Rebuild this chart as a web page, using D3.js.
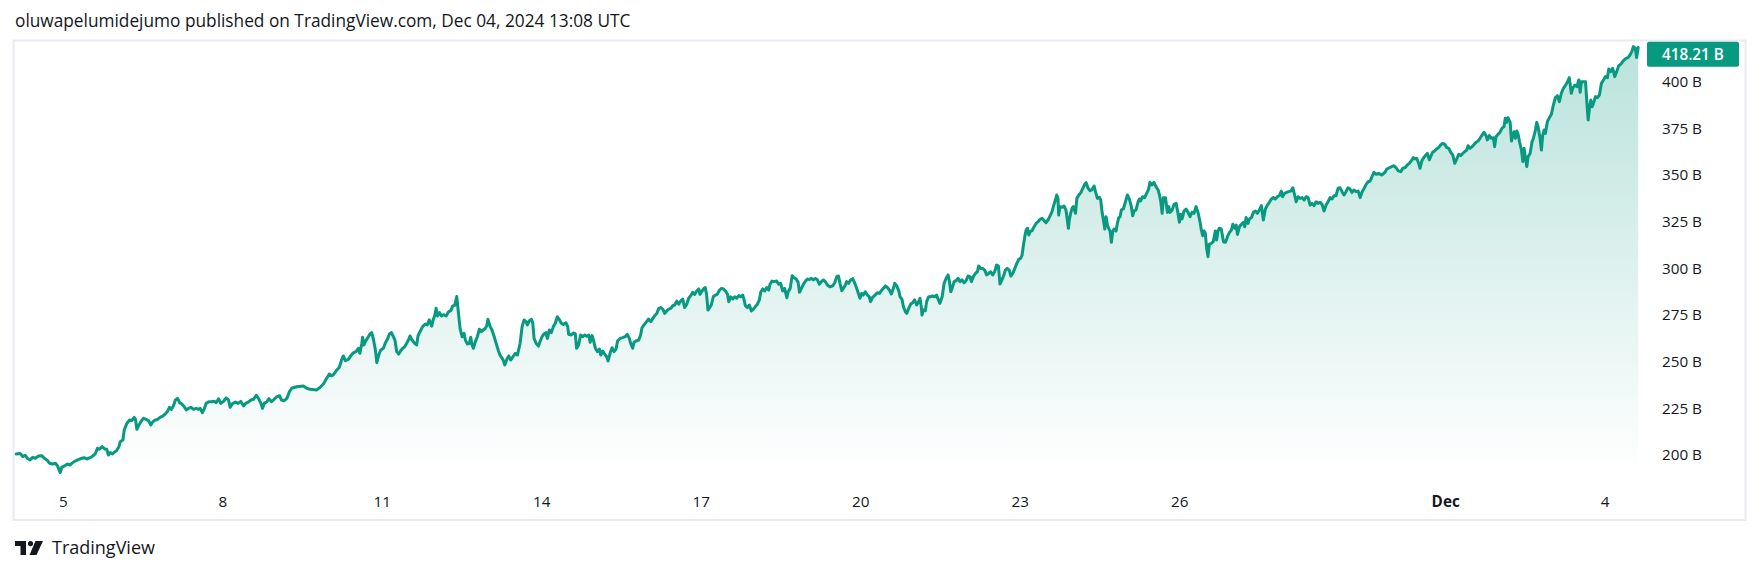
<!DOCTYPE html>
<html><head><meta charset="utf-8">
<script src="https://cdn.jsdelivr.net/npm/d3@7"></script>
<style>
html,body{margin:0;padding:0;background:#fff;}
svg{display:block;}
text{font-family:"Open Sans","Noto Sans",sans-serif;fill:#131722;}
</style></head><body>
<svg id="chart" width="1761" height="574"></svg>
<script>
// ---------------- DATA ----------------
const headerText = "oluwapelumidejumo published on TradingView.com, Dec 04, 2024 13:08 UTC";
const brandText = "TradingView";
const seriesStart = "2024-11-04T00:00:00Z";
// [hours since seriesStart, market value in billions]
const seriesPoints = [
[2.7,200.5],[4.5,200.8],[5.7,199.1],[6.8,199.8],[7.8,198.2],[9.0,197.3],[10.2,198.7],[11.4,198.2],[12.8,199.4],[14.3,199.6],[15.4,198.2],[16.6,197.3],[17.8,195.5],[19.3,195.1],[20.5,195.5],[21.4,194.1],[22.6,190.5],[23.3,193.3],[24.5,194.1],[25.9,195.1],[27.1,194.6],[28.6,196.2],[29.8,196.9],[31.0,197.6],[32.4,198.2],[33.4,198.5],[34.6,197.8],[36.1,198.5],[37.3,199.4],[38.4,200.5],[39.4,203.5],[40.3,203.0],[41.5,204.4],[42.7,203.2],[43.6,203.0],[44.4,199.9],[45.2,201.2],[46.2,200.5],[47.4,201.7],[48.2,202.6],[49.1,204.4],[49.7,207.1],[50.9,208.0],[51.5,213.3],[52.7,216.9],[53.9,218.7],[54.9,218.3],[56.0,220.1],[56.6,219.0],[57.2,213.7],[57.9,215.5],[59.0,217.8],[60.2,219.6],[61.4,219.0],[62.5,218.3],[63.5,216.0],[64.4,217.8],[65.5,218.7],[66.5,219.0],[67.7,220.1],[68.9,220.8],[70.0,221.9],[71.0,223.2],[71.9,225.5],[72.8,224.4],[73.7,226.2],[74.6,229.4],[75.6,230.3],[76.5,228.0],[77.5,227.3],[78.6,225.8],[79.5,224.1],[80.5,224.9],[81.6,225.5],[82.8,224.4],[84.0,224.9],[85.0,224.4],[85.8,224.9],[86.8,222.6],[87.6,224.6],[88.5,227.6],[89.7,228.5],[90.9,228.5],[92.1,228.7],[93.0,228.0],[94.1,230.1],[95.1,227.6],[96.3,228.7],[97.5,230.5],[98.6,229.4],[99.3,225.5],[100.5,227.6],[101.7,228.3],[102.9,227.6],[104.1,228.7],[105.4,226.2],[106.3,227.6],[107.5,228.3],[108.7,229.4],[109.9,229.8],[111.1,231.9],[112.1,230.3],[113.2,227.6],[113.9,224.9],[114.7,227.6],[115.9,228.5],[116.8,230.1],[118.0,228.5],[119.2,229.8],[120.4,231.2],[121.6,231.7],[122.5,229.4],[123.7,229.0],[124.9,230.3],[126.1,233.9],
[127.1,235.7],[129.3,236.5],[132.4,236.9],[133.9,235.7],[135.4,235.1],[138.4,234.8],[139.9,236.2],[141.4,238.0],[142.9,241.0],[144.1,243.3],[145.2,242.3],[146.2,243.3],[147.4,245.5],[148.6,246.9],[149.7,251.2],[150.4,253.0],[151.3,250.5],[152.7,251.2],[153.7,253.0],[154.9,254.7],[156.1,255.3],[157.2,257.1],[157.9,254.4],[158.7,259.4],[159.1,263.0],[159.7,258.9],[160.6,261.2],[161.7,263.3],[162.5,264.8],[163.2,265.5],[163.9,262.4],[164.9,256.2],[165.5,249.4],[166.4,253.5],[167.3,256.2],[168.5,257.1],[169.4,260.1],[170.3,261.9],[171.2,264.8],[172.1,265.5],[173.0,263.3],[173.7,261.5],[174.5,255.3],[175.4,254.0],[176.3,255.8],[177.2,257.1],[178.1,258.0],[179.0,259.8],[179.9,261.9],[180.5,263.7],[181.4,261.5],[182.6,259.8],[183.5,258.9],[184.1,263.7],[185.0,266.0],[186.2,268.7],[187.4,270.1],[188.3,269.6],[189.2,272.3],[190.3,269.0],[191.0,272.6],[191.6,274.4],[192.3,278.5],[192.9,274.4],[193.8,276.2],[194.7,274.4],[195.6,275.1],[196.8,274.4],[197.8,276.5],[198.9,277.3],[199.8,279.8],[200.7,280.1],[201.6,284.8],[202.3,276.7],[203.1,267.8],[204.0,263.3],[204.9,265.1],[205.5,261.5],[206.4,259.4],[207.3,259.8],[207.9,263.0],[208.5,258.9],[209.1,257.1],[210.0,260.7],[210.9,263.3],[211.8,267.3],[212.7,266.0],[213.6,266.9],[214.5,267.8],[215.1,269.0],[215.7,272.6],[216.6,269.0],[217.5,266.9],[218.4,263.7],[219.3,260.1],[220.4,255.8],[221.1,253.5],[222.4,251.2],[223.3,248.2],[224.2,251.2],[225.1,253.0],[226.0,250.8],[227.2,253.0],[228.1,254.4],[229.0,253.5],[230.2,259.8],[231.1,268.7],[232.0,272.3],[232.9,271.4],[233.5,269.6],[234.4,271.9],[235.3,272.6],[235.9,270.8],[236.5,262.4],[237.4,259.8],[238.5,258.3],[239.2,260.7],[240.1,263.3],[241.0,264.8],[241.9,265.5],[242.5,262.4],[243.4,266.9],[244.3,265.5],[245.2,268.7],[246.1,270.5],[247.0,274.0],[248.0,272.3],
[248.8,270.5],[249.7,269.9],[250.9,270.7],[251.7,268.7],[252.1,264.6],[253.3,264.2],[254.2,265.3],[255.1,264.9],[255.7,257.1],[256.6,258.9],[257.5,264.2],[258.4,263.3],[259.4,264.2],[260.3,263.5],[261.2,264.2],[261.8,260.3],[262.7,263.9],[263.3,261.5],[264.2,257.1],[265.1,255.3],[266.0,256.7],[266.6,253.5],[267.5,255.6],[268.4,253.9],[269.3,252.6],[269.9,250.3],[270.8,254.4],[271.7,257.4],[272.6,255.3],[273.5,256.7],[274.2,261.0],[275.3,262.4],[276.5,262.8],[277.6,263.3],[278.6,264.6],[279.5,262.4],[280.1,259.8],[281.0,257.1],[281.6,260.3],[282.5,261.0],[283.7,261.5],[284.6,264.2],[285.2,268.1],[286.1,269.6],[287.3,271.4],[288.2,272.8],[289.2,271.4],[290.1,273.1],[291.0,274.6],[291.9,275.8],[292.8,278.5],[293.7,278.9],[294.6,278.1],[295.5,275.8],[296.4,277.1],[297.3,278.1],[298.2,278.5],[299.1,279.9],[300.0,280.3],[300.9,282.4],[301.8,280.7],[302.7,282.4],[303.6,283.5],[304.5,278.9],[305.4,280.7],[306.3,283.9],[307.2,285.3],[308.1,287.1],[309.0,286.0],[309.9,287.8],[310.8,288.9],[311.4,286.0],[312.3,287.8],[313.2,289.2],[313.8,289.6],[314.4,285.6],[315.0,277.6],[315.6,278.5],[316.5,280.3],[317.4,284.7],[318.3,285.6],[319.2,286.0],[320.2,288.3],[321.1,289.2],[322.0,288.9],[322.9,287.8],[323.8,286.0],[324.4,282.1],[325.3,284.7],[326.2,283.5],[327.1,284.7],[328.0,283.9],[328.9,285.3],[329.8,284.7],[330.7,285.6],[331.3,283.0],[331.9,279.9],[332.8,278.9],[333.7,280.3],[334.6,277.1],[335.5,278.1],[336.4,279.4],[337.3,280.7],[338.2,283.0],[338.8,287.1],[339.7,288.9],[340.6,287.8],[341.5,289.6],[342.4,288.3],[343.0,291.4],[343.9,293.1],[344.8,292.8],[346.0,293.1],[346.9,291.4],[347.8,291.9],[348.7,287.8],[349.6,289.2],[350.6,284.2],[351.2,287.4],[352.1,289.2],[353.0,296.0],[353.9,294.9],[354.8,294.2],[355.7,292.4],[356.3,287.1],[357.2,289.2],[358.1,291.4],[359.0,293.1],[359.9,294.2],[360.8,293.9],[361.7,294.6],[362.6,293.7],[363.5,294.6],[364.4,293.7],[365.3,291.4],[366.2,292.8],[367.1,293.7],[368.0,292.8],[368.9,291.0],[369.8,290.1],
[370.4,290.1],[371.3,290.5],[372.2,292.2],[373.1,295.5],[373.9,295.8],[374.6,291.9],[375.4,288.0],[376.1,289.2],[377.0,291.0],[377.6,292.8],[378.5,291.9],[379.4,293.7],[380.3,294.4],[381.2,292.2],[382.1,289.2],[382.9,286.5],[383.6,283.9],[384.4,286.5],[385.1,285.6],[386.0,287.4],[387.0,285.6],[387.8,284.7],[388.4,282.1],[389.3,284.4],[390.4,285.6],[391.5,286.9],[392.4,286.5],[393.3,288.0],[394.2,289.2],[395.1,290.5],[396.0,289.7],[396.9,288.3],[397.8,286.2],[398.7,289.2],[399.3,291.9],[400.2,290.5],[401.1,288.0],[401.7,284.7],[402.6,283.3],[403.2,279.4],[404.1,276.7],[404.7,275.8],[405.6,278.5],[406.5,280.8],[407.4,281.5],[408.3,283.0],[409.2,280.3],[410.1,282.1],[410.7,283.9],[411.3,279.4],[411.6,274.9],[412.2,277.6],[413.1,277.2],[413.7,282.1],[414.6,284.7],[415.5,284.7],[416.4,285.1],[417.3,284.7],[418.2,285.6],[419.0,283.0],[419.7,281.2],[420.7,284.7],[421.6,291.9],[422.5,294.6],[423.4,296.4],[424.0,292.8],[424.6,287.4],[425.2,289.2],[426.1,292.8],[427.0,293.3],[427.9,294.6],[428.8,292.8],[429.7,293.7],[430.6,292.2],[431.5,293.3],[432.4,295.8],[433.3,295.5],[433.9,292.8],[434.8,295.5],[435.7,297.2],[436.6,298.1],[437.2,301.2],[438.1,299.9],[439.0,299.9],[439.9,299.0],[440.8,296.4],[441.7,297.2],[442.6,298.1],[443.5,296.4],[444.4,298.1],[445.3,301.7],[446.1,301.2],[446.8,291.5],[447.7,293.7],[448.6,296.4],[449.2,299.0],[450.1,299.9],[451.0,299.0],[451.7,295.8],[452.6,297.2],[453.5,299.9],[454.4,302.6],[455.3,304.7],[456.2,305.3],[456.8,307.1],[457.4,312.4],[458.0,316.9],[458.6,320.5],[459.2,321.4],[459.8,317.8],[460.4,319.6],[461.3,320.1],[462.2,322.2],[463.1,324.0],[464.0,324.9],[464.9,326.2],[465.8,326.7],[466.7,325.5],[467.6,324.4],[468.5,325.8],[469.4,328.0],[470.3,330.3],[470.9,333.0],[471.8,336.5],[472.4,339.2],[473.0,337.4],[473.3,328.5],[473.9,333.0],[474.8,332.6],[475.7,333.3],[476.6,331.2],[477.2,325.8],[477.7,321.4],[478.1,325.8],[478.7,329.4],[479.3,332.1],[479.9,333.0],[480.9,329.4],[481.5,337.4],[482.4,339.2],[483.3,340.5],[484.2,342.8],[485.1,345.1],[485.7,345.8],[486.6,342.8],[487.5,341.5],[488.4,342.2],[489.3,344.0],[489.9,341.0],[490.8,337.4],[491.7,338.0],
[492.3,336.5],[492.9,329.9],[493.5,325.8],[494.1,321.0],[494.7,327.6],[495.3,323.1],[495.9,321.3],[496.5,319.9],[497.1,313.9],[497.7,319.6],[498.3,321.0],[499.2,319.9],[499.8,324.0],[500.4,327.1],[501.0,327.6],[501.6,331.2],[502.5,331.7],[503.4,335.3],[504.3,339.2],[505.2,337.1],[506.1,333.0],[506.7,328.1],[507.3,330.6],[508.2,331.2],[509.1,335.3],[509.7,337.1],[510.3,336.0],[511.2,338.3],[512.1,337.8],[513.0,340.1],[513.9,342.4],[514.5,346.0],[515.4,344.6],[516.3,346.0],[517.2,343.7],[518.2,341.9],[518.8,339.2],[519.4,335.6],[520.0,329.4],[520.6,337.8],[521.5,337.8],[522.4,329.9],[523.0,333.0],[523.6,329.9],[524.5,331.2],[525.4,334.2],[526.3,334.7],[526.9,331.2],[527.8,324.6],[528.4,328.9],[529.0,326.4],[529.9,330.6],[530.8,331.7],[531.7,329.9],[532.6,327.6],[533.5,329.9],[534.4,329.4],[535.3,333.0],[536.2,329.9],[537.1,324.9],[537.7,320.5],[538.3,317.4],[538.9,319.9],[539.5,318.7],[540.1,310.6],[540.7,306.2],[541.3,312.8],[542.2,313.3],[543.1,314.2],[544.0,319.9],[544.6,315.1],[545.2,319.9],[545.8,321.4],[546.7,321.0],[547.7,314.2],[548.6,313.9],[549.5,316.9],[550.4,319.2],[551.3,320.5],[551.9,323.5],[552.8,321.4],[553.4,323.1],[554.0,318.1],[554.9,322.2],[555.8,323.5],[556.7,324.6],[557.3,322.2],[557.9,327.1],[558.8,324.0],[559.4,326.4],[560.3,327.1],[561.2,329.9],[562.1,330.6],[563.0,329.4],[563.9,331.2],[564.8,333.5],[565.7,325.8],[566.6,331.7],[567.5,333.8],[568.4,335.3],[569.3,337.1],[570.2,337.8],[571.1,337.1],[572.0,338.3],[572.9,338.8],[573.8,341.3],[574.4,338.3],[575.3,340.1],[576.2,340.6],[577.1,341.0],[578.1,341.3],[579.0,343.1],[579.9,338.8],[580.5,335.6],[581.4,338.3],[582.3,337.4],[583.2,337.8],[584.1,336.5],[585.0,338.3],[585.9,337.8],[586.8,333.8],[587.7,334.7],[588.6,333.5],[589.5,335.6],[590.4,334.7],[591.3,335.3],[592.2,334.2],[593.1,330.6],[594.0,333.8],[594.9,335.6],[595.8,337.8],[596.7,337.1],[597.6,338.8],[598.5,338.8],[599.4,342.8],[600.3,343.1],[601.2,341.0],[602.1,339.2],[603.0,341.0],[603.9,343.1],[604.8,342.4],[605.7,340.6],[606.6,341.9],[607.5,341.0],[608.5,341.3],[609.4,337.8],[610.3,341.0],[611.2,342.8],[612.1,344.9],[613.0,346.3],[613.9,346.7],
[615.6,351.4],[616.6,350.3],[617.8,350.8],[619.1,349.9],[620.6,351.4],[621.4,353.1],[622.6,353.8],[623.6,354.4],[624.7,354.9],[625.6,353.8],[626.6,352.1],[627.7,351.7],[628.6,353.5],[629.6,353.8],[630.7,355.3],[631.6,356.2],[632.7,357.9],[633.4,359.2],[634.2,358.5],[634.9,358.9],[635.8,356.2],[636.4,353.5],[637.2,357.4],[637.9,358.9],[638.8,360.3],[639.7,361.5],[640.6,358.0],[641.2,359.7],[642.1,362.1],[643.0,362.8],[643.9,363.9],[644.8,364.6],[645.7,366.0],[646.6,366.9],[647.6,366.3],[648.5,364.6],[649.4,364.2],[650.3,362.1],[651.2,360.6],[652.1,356.2],[653.0,358.5],[653.9,361.0],[654.8,360.3],[655.7,361.5],[656.6,362.4],[657.5,363.3],[658.1,365.6],[659.0,364.2],[659.9,365.1],[660.8,366.3],[661.7,367.4],[662.6,368.1],[663.5,369.6],[664.4,371.3],[665.3,372.8],[666.2,371.0],[666.8,368.7],[667.7,371.0],[668.6,369.6],[669.5,369.9],[670.1,365.1],[670.7,370.4],[671.6,371.7],[672.5,372.8],[673.4,374.9],[674.3,375.8],[674.9,380.3],[675.5,378.1],[676.1,380.6],[677.1,378.1],[677.7,368.1],[678.3,371.3],[678.9,373.1],[679.5,369.6],[680.1,373.5],[680.7,371.7],[681.3,367.8],[682.2,363.3],[682.8,357.1],[683.4,364.2],[684.0,359.2],[684.6,354.4],[685.2,359.7],[686.1,361.5],[687.0,367.8],[687.6,369.6],[688.5,374.0],[689.1,378.1],[689.7,375.8],[690.6,369.6],[691.2,363.3],[691.8,371.3],[692.4,374.0],[693.0,372.2],[693.9,378.5],[694.8,380.6],[695.7,382.4],[696.6,387.4],[697.5,391.3],[698.4,392.4],[699.3,389.2],[700.2,393.7],[701.1,396.3],[702.0,397.8],[702.9,399.6],[703.8,402.1],[704.7,393.7],[705.3,396.3],[706.3,398.1],[707.2,397.2],[708.1,400.8],[708.7,394.2],[709.3,399.9],[710.2,399.9],[711.1,399.9],[711.7,389.2],[712.3,379.4],[712.9,385.6],[713.5,390.1],[714.1,386.5],[714.7,388.3],[715.6,391.9],[716.5,391.3],[717.4,392.8],[718.3,399.0],[719.2,400.8],[720.1,402.6],[721.0,402.0],[721.6,406.7],[722.5,405.3],[723.4,407.1],[724.3,402.6],[725.2,405.3],[726.1,408.5],[727.0,409.2],[727.9,410.6],[728.5,411.5],[729.4,412.4],[730.3,412.8],[731.2,414.2],[732.1,416.3],[732.7,418.7],[733.6,417.8],[734.2,412.8],[734.9,418.21]
];
const lastValueLabel = "418.21 B";
const yTickValues = [200, 225, 250, 275, 300, 325, 350, 375, 400];
const yTickSuffix = " B";
const xTickDates = ["2024-11-05","2024-11-08","2024-11-11","2024-11-14","2024-11-17","2024-11-20","2024-11-23","2024-11-26","2024-12-01","2024-12-04"];
const xTickLabels = ["5","8","11","14","17","20","23","26","Dec","4"];
const xTickBold = [false,false,false,false,false,false,false,false,true,false];

// ---------------- LAYOUT ----------------
const W = 1761, H = 574;
const frame = {left: 13.5, top: 40.5, right: 1745.5, bottom: 520};
const pane = {left: 14.5, top: 41.5, right: 1641, bottom: 474};
const lineColor = "#089981";
const svg = d3.select("#chart");

const t0 = new Date(seriesStart).getTime();
const data = seriesPoints.map(([h, v]) => ({t: new Date(t0 + h * 3600e3), v}));

const x = d3.scaleUtc()
  .domain([new Date("2024-11-05T00:00:00Z"), new Date("2024-12-04T00:00:00Z")])
  .range([63.3, 1605.2]);
const y = d3.scaleLinear().domain([200, 400]).range([454.9, 81.5]);

function fitText(sel, targetWidth, baseSize) {
  sel.style("font-size", baseSize + "px");
  const w = sel.node().getComputedTextLength();
  if (w > 0) sel.style("font-size", (baseSize * targetWidth / w).toFixed(2) + "px");
}

// header
const hdr = svg.append("text").attr("x", 15).attr("y", 27).text(headerText);
fitText(hdr, 616, 16);

// frame
svg.append("rect")
  .attr("x", frame.left).attr("y", frame.top)
  .attr("width", frame.right - frame.left).attr("height", frame.bottom - frame.top)
  .attr("fill", "#fff").attr("stroke", "#e9ebf1").attr("stroke-width", 2);

// clip
const defs = svg.append("defs");
defs.append("clipPath").attr("id", "paneClip").append("rect")
  .attr("x", pane.left).attr("y", pane.top)
  .attr("width", pane.right - pane.left).attr("height", pane.bottom - pane.top);

const maxV = d3.max(data, d => d.v);
const grad = defs.append("linearGradient").attr("id", "areaGrad")
  .attr("gradientUnits", "userSpaceOnUse")
  .attr("x1", 0).attr("x2", 0).attr("y1", y(maxV)).attr("y2", pane.bottom);
grad.append("stop").attr("offset", 0).attr("stop-color", lineColor).attr("stop-opacity", 0.28);
grad.append("stop").attr("offset", 1).attr("stop-color", lineColor).attr("stop-opacity", 0.0);

const g = svg.append("g").attr("clip-path", "url(#paneClip)");
const area = d3.area().x(d => x(d.t)).y0(pane.bottom).y1(d => y(d.v));
const line = d3.line().x(d => x(d.t)).y(d => y(d.v));
g.append("path").datum(data).attr("d", area).attr("fill", "url(#areaGrad)");
g.append("path").datum(data).attr("d", line)
  .attr("fill", "none").attr("stroke", lineColor).attr("stroke-width", 3)
  .attr("stroke-linejoin", "round").attr("stroke-linecap", "round");

// y axis labels
const yAxis = svg.append("g").attr("transform", `translate(1662,0)`);
yAxis.selectAll("text").data(yTickValues).join("text")
  .attr("x", 0).attr("y", d => y(d)).attr("dy", "0.36em")
  .style("font-size", "14px")
  .text(d => d + yTickSuffix);
const sample = yAxis.select("text");
const sw = sample.node().getComputedTextLength();
const yFont = (14 * 40 / sw);
yAxis.selectAll("text").style("font-size", yFont.toFixed(2) + "px");

// last value label
const last = data[data.length - 1];
const boxH = 25;
let boxY = y(last.v) - boxH / 2;
boxY = Math.max(boxY, pane.top + 0.2);
svg.append("rect").attr("x", 1647).attr("y", boxY).attr("width", 92).attr("height", boxH)
  .attr("rx", 2).attr("fill", lineColor);
svg.append("text").attr("x", 1662).attr("y", boxY + boxH / 2).attr("dy", "0.36em")
  .style("font-size", yFont.toFixed(2) + "px").style("font-weight", 600)
  .style("fill", "#fff").text(lastValueLabel);

// x axis labels
svg.append("g").selectAll("text").data(xTickDates).join("text")
  .attr("x", d => x(new Date(d + "T00:00:00Z")))
  .attr("y", 502).attr("dy", "0.36em")
  .attr("text-anchor", "middle")
  .style("font-size", yFont.toFixed(2) + "px")
  .style("font-weight", (d, i) => xTickBold[i] ? 700 : 400)
  .text((d, i) => xTickLabels[i]);

// brand logo
const logo = svg.append("g").attr("transform", "translate(15,541)");
logo.append("path").attr("d", "M0 0 H11 V14 H5.5 V5 H0 Z").attr("fill", "#131722");
logo.append("circle").attr("cx", 15.5).attr("cy", 2.6).attr("r", 2.6).attr("fill", "#131722");
logo.append("path").attr("d", "M20.5 0 H28 L21.5 14 H14.5 Z").attr("fill", "#131722");
const brand = svg.append("text").attr("x", 52).attr("y", 554).text(brandText);
fitText(brand, 103, 18);
</script>
</body></html>
